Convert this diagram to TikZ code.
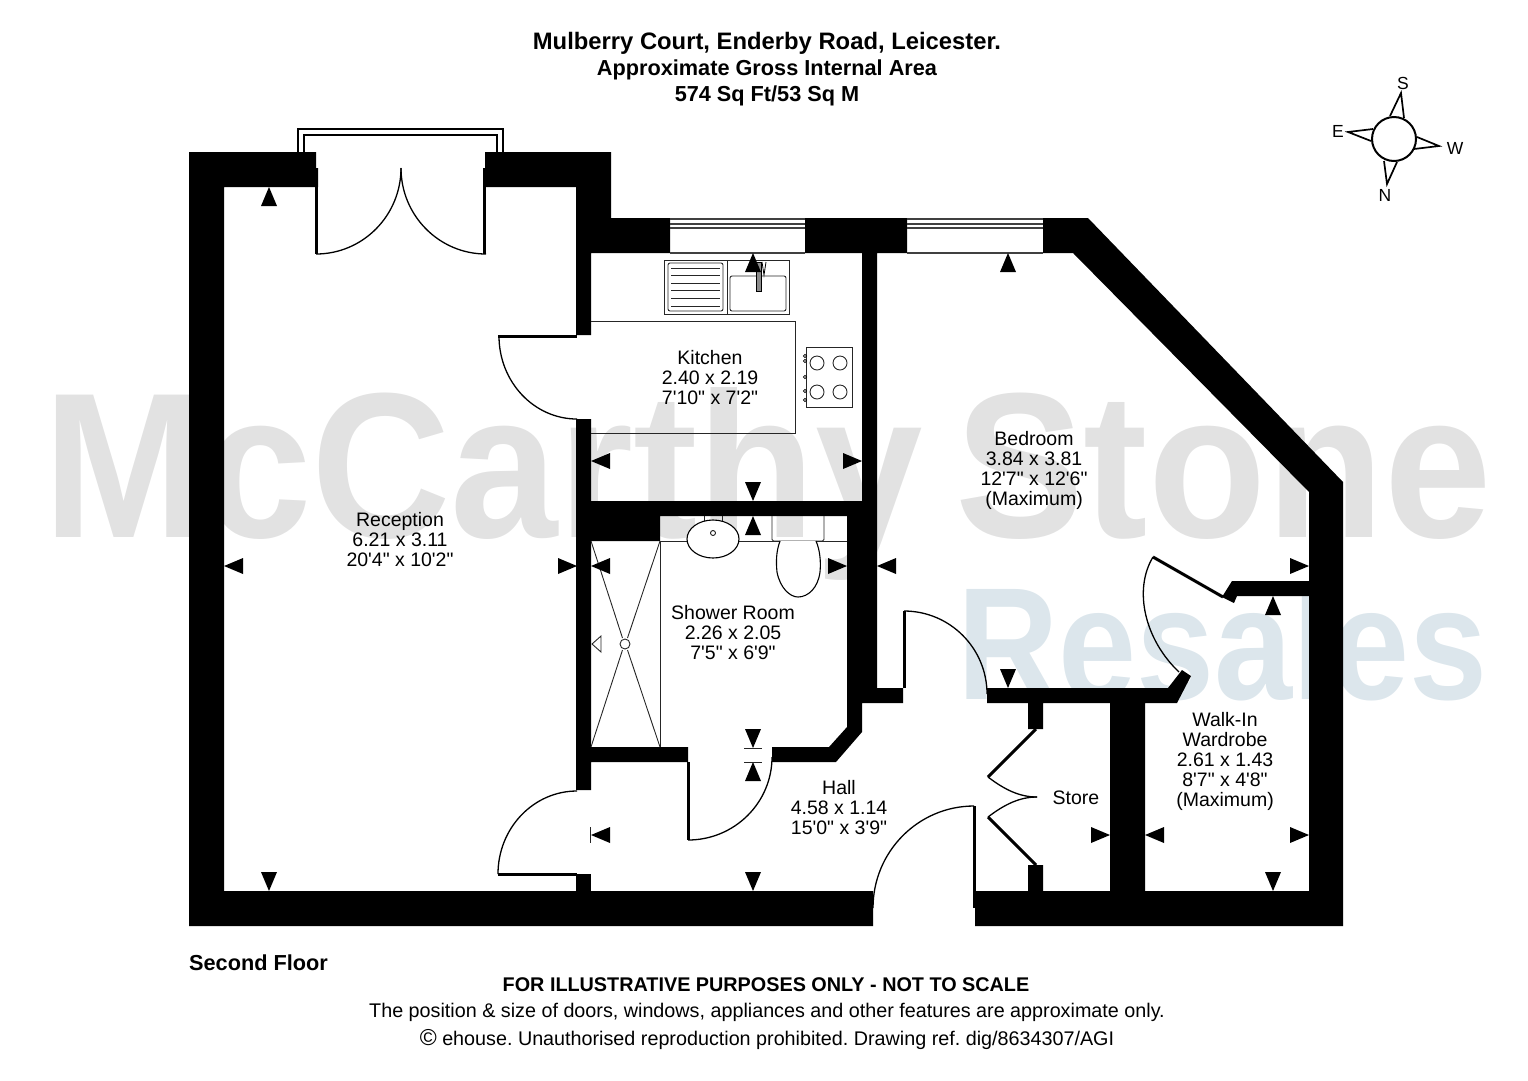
\documentclass[tikz,border=0pt]{standalone}
\usepackage{fontspec}
\setmainfont{Liberation Sans}
\newfontfamily\roomfont{Liberation Sans}
\definecolor{markgrey}{HTML}{E2E2E2}
\definecolor{markblue}{HTML}{DCE6EC}
\newcommand{\dimtip}[3]{\fill[shift={(#1,#2)},rotate=#3] (0,0) -- (-8,19) -- (8,19) -- cycle;}

\begin{document}
\frenchspacing
\begin{tikzpicture}[
    x=1pt, y=-1pt,
    wall/.style={fill=black},
    thinline/.style={line width=0.9pt, black!85},
    doorarc/.style={line width=1.3pt},
    leaf/.style={line width=3pt},
    room/.style={align=center, inner sep=0pt, font=\roomfont\fontsize{19.5}{20}\selectfont},
    heading/.style={inner sep=0pt, font=\bfseries\fontsize{21.7}{26.5}\selectfont},
    note/.style={inner sep=0pt, font=\fontsize{19.75}{20}\selectfont},
    compass/.style={inner sep=0pt, font=\fontsize{17.5}{17.5}\selectfont}]
    \useasboundingbox (0,0) rectangle (1528,1080);

    % watermark
    \node[inner sep=0pt, font=\bfseries\fontsize{207}{207}\selectfont, text=markgrey, xscale=0.933, anchor=base] (markname) at (767.5,537) {McCarthy\hspace{-23pt} Stone};
    \node[inner sep=0pt, font=\bfseries\fontsize{160}{160}\selectfont, text=markblue, xscale=0.877, anchor=base east] (markresale) at (1488,699) {Resales};

    % walls
    \fill[wall] (189,152) -- (316,152) -- (316,168) -- (318,168) -- (318,187) -- (224,187) -- (224,891)
                -- (873,891) -- (873,926) -- (189,926) -- cycle;
    \fill[wall] (485,152) -- (611,152) -- (611,218) -- (670,218) -- (670,253) -- (591,253) -- (591,335)
                -- (576,335) -- (576,187) -- (483,187) -- (483,168) -- (485,168) -- cycle;
    \fill[wall] (805,218) -- (907,218) -- (907,253) -- (877,253) -- (877,688) -- (903,688) -- (903,703)
                -- (862,703) -- (862,732) -- (836,762) -- (772,762) -- (772,747) -- (829,747) -- (847,727)
                -- (847,516) -- (660,516) -- (660,541) -- (591,541) -- (591,747) -- (688,747) -- (688,762)
                -- (591,762) -- (591,790) -- (576,790) -- (576,419) -- (591,419) -- (591,501) -- (862,501)
                -- (862,253) -- (805,253) -- cycle;
    \fill[wall] (576,874) rectangle (591,891);
    \fill[wall] (1043,218) -- (1088,218) -- (1343,482) -- (1343,926) -- (975,926) -- (975,891) -- (1028,891)
                -- (1028,865) -- (1043,865) -- (1043,891) -- (1110,891) -- (1110,703) -- (1043,703)
                -- (1043,729) -- (1028,729) -- (1028,703) -- (987,703) -- (987,688) -- (1168,688)
                -- (1182,670) -- (1191,676) -- (1177,703) -- (1145,703) -- (1145,891) -- (1309,891)
                -- (1309,596) -- (1237,596) -- (1234,603) -- (1222,597) -- (1232,581) -- (1309,581)
                -- (1309,492) -- (1073,253) -- (1043,253) -- cycle;

    % balcony and windows
    \draw[line width=1.1pt] (298,152) -- (298,129) -- (503,129) -- (503,152);
    \draw[line width=1.4pt] (304,152) -- (304,135) -- (497,135) -- (497,152);
    \foreach \y in {219,224,228,253} {
        \draw[line width=1.1pt, black!75] (670,\y) -- (805,\y);
        \draw[line width=1.1pt, black!75] (907,\y) -- (1043,\y);
    }

    % doors
    \draw[leaf] (316.5,168) -- (316.5,254);
    \draw[doorarc] (316,254) arc (270:360:85pt and 86pt);
    \draw[leaf] (484.5,168) -- (484.5,254);
    \draw[doorarc] (401,168) arc (180:270:85pt and 86pt);
    \draw[leaf] (498,336) -- (577,336);
    \draw[doorarc] (499,336) arc (180:270:78pt and 83pt);
    \draw[leaf] (498,874) -- (577,874);
    \draw[doorarc] (498,874) arc (180:90:79pt and 83pt);
    \draw[leaf] (688,762) -- (688,840);
    \draw[doorarc] (688,840) arc (270:360:84pt and 83pt);
    \draw[leaf] (904,611) -- (904,688);
    \draw[doorarc] (904,611) arc (90:0:83pt);
    \draw[leaf] (974,806) -- (974,908);
    \draw[doorarc] (974,806) arc (90:180:101pt and 102pt);
    \draw[leaf] (1036,729) -- (988,777);
    \draw[doorarc] (988,777) .. controls (1005,790) and (1020,797) .. (1037,797);
    \draw[leaf] (1036,865) -- (988,817);
    \draw[doorarc] (988,817) .. controls (1005,804) and (1020,797) .. (1037,797);
    \draw[leaf] (1153,557) -- (1223,597);
    \draw[doorarc] (1153,557) .. controls (1133,590) and (1145,640) .. (1179,672);

    % kitchen
    \draw[thinline] (591,321) -- (795,321) -- (795,433) -- (591,433);
    \draw[thinline] (664,260) rectangle (789,314);
    \draw[thinline] (727,260) -- (727,314);
    \draw[thinline, rounded corners=2pt] (668,263) rectangle (723,311);
    \draw[thinline, rounded corners=2pt] (730,276) rectangle (786,311);
    \foreach \y in {268,275.5,283,290.5,298,306} {
        \draw[thinline] (671,\y) -- (720,\y);
    }
    \draw[line width=0.8pt, fill=black!45] (756,262) rectangle (761,291);
    \draw[line width=0.8pt] (762,262) -- (764,275) -- (766,262);
    \draw[thinline] (806,347) rectangle (852,407);
    \foreach \x in {817,840} {
        \foreach \y in {363,392} {
            \draw[thinline] (\x,\y) circle (7pt);
        }
    }
    \foreach \y in {356,361,377,391,400} {
        \draw[line width=0.8pt] (805,\y) circle (1.6pt);
    }

    % shower room
    \draw[thinline] (660,541) -- (660,747);
    \draw[thinline] (660,541) -- (847,541);
    \draw[thinline] (591,541) -- (622.5,638);
    \draw[thinline] (660,541) -- (627.5,638);
    \draw[thinline] (591,747) -- (622.5,650);
    \draw[thinline] (660,747) -- (627.5,650);
    \draw[thinline] (625,644) circle (5pt);
    \draw[thinline] (704,516) -- (704,522) (722,516) -- (722,522);
    \draw[line width=1.1pt, fill=white] (713,539) ellipse (26pt and 19pt);
    \draw[line width=0.8pt] (713,533) circle (2.5pt);
    \draw[thinline, rounded corners=1.5pt] (772,516) -- (772,541) -- (824,541) -- (824,516);
    \draw[line width=1.1pt, fill=white] (780,541) .. controls (776,552) and (776,562) .. (777,572)
                            .. controls (780,588) and (790,597) .. (798,597)
                            .. controls (808,597) and (818,588) .. (820,572)
                            .. controls (821,562) and (820,550) .. (816,541);

    % dimension marks
    \foreach \x/\y in {269/187,753/253,753/516,753/762,1008/253,1273/596} {
        \dimtip{\x}{\y}{0}
    }
    \foreach \x/\y in {269/891,753/501,753/748,753/891,1008/688,1273/891} {
        \dimtip{\x}{\y}{180}
    }
    \foreach \x/\y in {224/566,591/461,591/566,591/835,877/566,1145/835} {
        \dimtip{\x}{\y}{90}
    }
    \foreach \x/\y in {577/566,862/461,847/566,1309/566,1110/835,1309/835} {
        \dimtip{\x}{\y}{-90}
    }
    \draw[thinline] (592,644) -- (601,636) -- (601,652) -- cycle;
    \draw[thinline] (744,748) -- (762,748);
    \draw[thinline] (744,762) -- (762,762);
    \draw[thinline] (590.5,827) -- (590.5,843);

    % compass
    \draw[line width=2pt] (1394,139) circle (22pt);
    \draw[line width=1.7pt] (1390,116) -- (1401,93) -- (1404,118);
    \draw[line width=1.7pt] (1417,137) -- (1439,146) -- (1414,149);
    \draw[line width=1.7pt] (1384,161) -- (1387,184) -- (1397,162);
    \draw[line width=1.7pt] (1373,129) -- (1348,132) -- (1371,141);
    \node[compass] (south) at (1403,83) {S};
    \node[compass] (west) at (1455,148) {W};
    \node[compass] (north) at (1385,195) {N};
    \node[compass] (east) at (1338,131) {E};

    % texts
    \node[heading, font=\bfseries\fontsize{23.8}{26.5}\selectfont] (title) at (767,43) {Mulberry Court, Enderby Road, Leicester.};
    \node[heading] (area) at (767,70) {Approximate Gross Internal Area};
    \node[heading] (size) at (767,96) {574 Sq Ft/53 Sq M};
    \node[room] (reception) at (400,540) {Reception\\6.21 x 3.11\\20'4" x 10'2"};
    \node[room] (kitchen) at (710,378) {Kitchen\\2.40 x 2.19\\7'10" x 7'2"};
    \node[room] (shower) at (733,633) {Shower Room\\2.26 x 2.05\\7'5" x 6'9"};
    \node[room] (bedroom) at (1034,470) {Bedroom\\3.84 x 3.81\\12'7" x 12'6"\\(Maximum)};
    \node[room] (hall) at (839,808) {Hall\\4.58 x 1.14\\15'0" x 3'9"};
    \node[room] (store) at (1076,798) {Store};
    \node[room] (wardrobe) at (1225,761) {Walk-In\\Wardrobe\\2.61 x 1.43\\8'7" x 4'8"\\(Maximum)};
    \node[note, anchor=west, font=\bfseries\fontsize{21.7}{22}\selectfont] (floor) at (189,963) {Second Floor};
    \node[note, font=\bfseries\fontsize{19.8}{20}\selectfont] (illustrative) at (766,985) {FOR ILLUSTRATIVE PURPOSES ONLY - NOT TO SCALE};
    \node[note] (position) at (767,1012) {The position \& size of doors, windows, appliances and other features are approximate only.};
    \node[note] (copyright) at (767,1039) {{\fontsize{23}{20}\selectfont ©} ehouse. Unauthorised reproduction prohibited. Drawing ref. dig/8634307/AGI};
\end{tikzpicture}
\end{document}
